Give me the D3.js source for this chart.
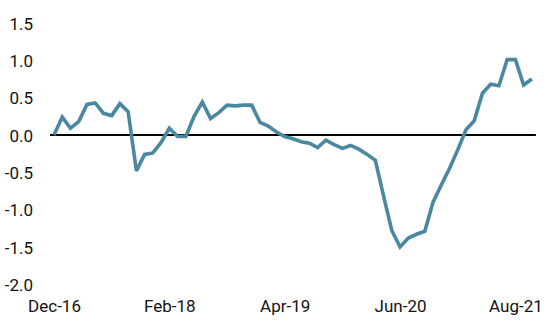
<!DOCTYPE html>
<html><head><meta charset="utf-8">
<script src="https://cdn.jsdelivr.net/npm/d3@7"></script>
<style>html,body{margin:0;padding:0;background:#fff;}svg{display:block;font-family:Roboto,"Noto Sans",sans-serif;}</style>
</head><body>
<svg id="c" width="553" height="334"></svg>
<script>
const startMonth = "Dec-16";
const values = [0.00,0.24,0.09,0.18,0.41,0.43,0.29,0.26,0.42,0.31,
  -0.48,-0.26,-0.24,-0.10,0.09,-0.02,-0.02,0.25,0.44,0.22,
  0.30,0.40,0.39,0.40,0.40,0.17,0.12,0.04,-0.02,-0.05,
  -0.09,-0.11,-0.17,-0.07,-0.13,-0.18,-0.14,-0.19,-0.26,-0.34,
  -0.82,-1.28,-1.50,-1.38,-1.33,-1.29,-0.90,-0.67,-0.45,-0.20,
  0.07,0.19,0.56,0.68,0.66,1.01,1.01,0.67,0.75];
const xTickLabels = ["Dec-16","Feb-18","Apr-19","Jun-20","Aug-21"];
const xTickIndex = [0,14,28,42,56];
const yTicks = [1.5,1.0,0.5,0.0,-0.5,-1.0,-1.5,-2.0];

const svg = d3.select("#c");
const x = d3.scaleLinear().domain([0, values.length-1]).range([54, 531.9]);
const y = d3.scaleLinear().domain([-2, 1.5]).range([284.3, 23]);

// y labels
const ya = svg.append("g").attr("transform","translate(33,0)")
  .call(d3.axisLeft(y).tickValues(yTicks).tickFormat(d3.format(".1f")).tickSize(0).tickPadding(0));
ya.select(".domain").remove();
ya.selectAll("text").attr("font-size",17).attr("fill","#111").attr("font-family","Roboto").attr("dy","0.36em")
  .text(d => d3.format(".1f")(d).replace("−","-"));

// x labels
const xa = svg.append("g").attr("transform","translate(0,300)")
  .call(d3.axisBottom(x).tickValues(xTickIndex).tickFormat((d,i)=>xTickLabels[i]).tickSize(0).tickPadding(0));
xa.select(".domain").remove();
xa.selectAll("text").attr("font-size",17).attr("fill","#111").attr("font-family","Roboto").attr("dy","0.71em");

// zero line
svg.append("line").attr("x1",x(0)-4).attr("x2",x(values.length-1)+4)
  .attr("y1",y(0)).attr("y2",y(0)).attr("stroke","#000").attr("stroke-width",2);

// series
svg.append("path").datum(values)
  .attr("fill","none").attr("stroke","#4a87a1").attr("stroke-width",3.6)
  .attr("stroke-linejoin","miter").attr("stroke-miterlimit",3)
  .attr("d", d3.line().x((d,i)=>x(i)).y(d=>y(d)));
</script>
</body></html>
